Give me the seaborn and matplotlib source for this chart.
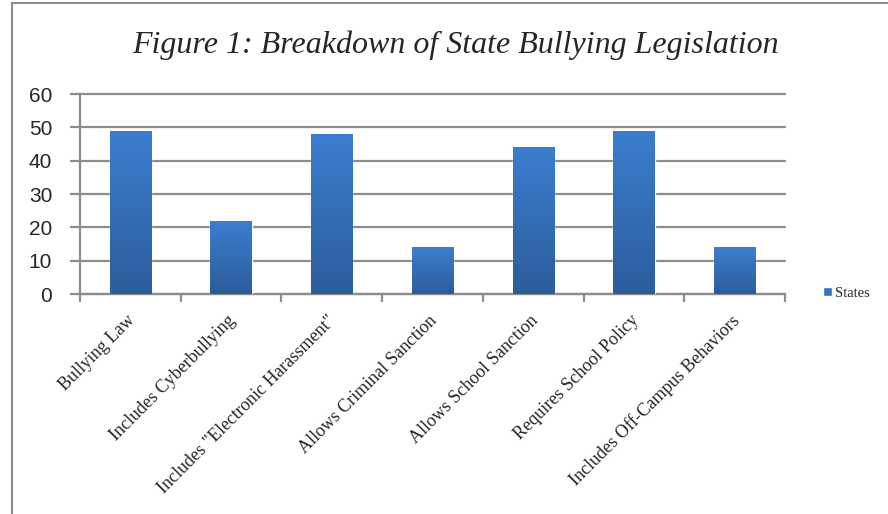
import numpy as np
import pandas as pd
import matplotlib.pyplot as plt
import seaborn as sns
from matplotlib.lines import Line2D
from matplotlib.patches import Patch
from matplotlib.transforms import ScaledTranslation

# Chart data
categories = ['Bullying Law', 'Includes Cyberbullying', 'Includes "Electronic Harassment"',
              'Allows Criminal Sanction', 'Allows School Sanction', 'Requires School Policy',
              'Includes Off-Campus Behaviors']
states = [49, 22, 48, 14, 44, 49, 14]

df = pd.DataFrame({'Category': categories, 'States': states})

sns.set_theme(style='white')

fig = plt.figure(figsize=(8.88, 5.14), dpi=100)
ax = fig.add_axes([0.09, 0.428, 0.794, 0.389])

sns.barplot(data=df, x='Category', y='States', color='#3474c0', width=0.41,
            saturation=1, ax=ax, zorder=3)

# gradient fill on each bar
grad = np.linspace(0, 1, 256).reshape(-1, 1)
cmap = sns.blend_palette(['#2c5d9b', '#3b7ecf'], as_cmap=True)
for bar in ax.patches:
    x0, y0 = bar.get_x(), bar.get_y()
    w, h = bar.get_width(), bar.get_height()
    im = ax.imshow(grad, extent=[x0, x0 + w, y0, y0 + h], origin='lower',
                   cmap=cmap, aspect='auto', zorder=4)
    im.set_clip_path(bar)
ax.set_xlim(-0.5, len(categories) - 0.5)
ax.set_ylim(0, 60)
ax.set_yticks(range(0, 61, 10))

grid_c = '#8c8c8c'
ax.yaxis.grid(True, color=grid_c, linewidth=1.6, zorder=0)
for gl in ax.get_ygridlines():
    gl.set_clip_on(False)
ax.set_axisbelow(True)
for s in ['top', 'right']:
    ax.spines[s].set_visible(False)
for s in ['left', 'bottom']:
    ax.spines[s].set_color(grid_c)
    ax.spines[s].set_linewidth(1.6)

ax.tick_params(axis='y', which='major', left=True, length=7, width=1.6, color=grid_c,
               labelsize=15, pad=13)
ax.set_xticks(np.arange(-0.5, len(categories), 1), minor=True)
ax.tick_params(axis='x', which='minor', bottom=True, length=6, width=1.6, color=grid_c)
ax.tick_params(axis='x', which='major', bottom=False, pad=7)
ax.set_xticklabels(categories, rotation=45, ha='right', va='top', rotation_mode='anchor',
                   fontsize=13, family='Liberation Serif')
shift = ScaledTranslation(-4 / 100, 0, fig.dpi_scale_trans)
for lbl in ax.get_xticklabels():
    lbl.set_transform(lbl.get_transform() + shift)
for lbl in ax.get_yticklabels():
    lbl.set_family('Liberation Sans')
ax.set_xlabel('')
ax.set_ylabel('')

fig.text(0.513, 0.912, 'Figure 1: Breakdown of State Bullying Legislation',
         ha='center', va='center', fontsize=23, style='italic', family='Liberation Serif')

ax.legend(handles=[Patch(facecolor='#3474c0', label='States')], loc='center left',
          bbox_to_anchor=(1.035, 0.005), frameon=False,
          prop={'family': 'Liberation Serif', 'size': 10.5},
          handlelength=0.65, handleheight=0.65, handletextpad=0.2)

# outer frame (left and top edges visible)
fig.add_artist(Line2D([12 / 888, 12 / 888], [0, 1 - 3 / 514], color='#8c8c8c', lw=1.5))
fig.add_artist(Line2D([12 / 888, 1], [1 - 3 / 514, 1 - 3 / 514], color='#8c8c8c', lw=1.5))

fig.savefig('out.png', dpi=100)
